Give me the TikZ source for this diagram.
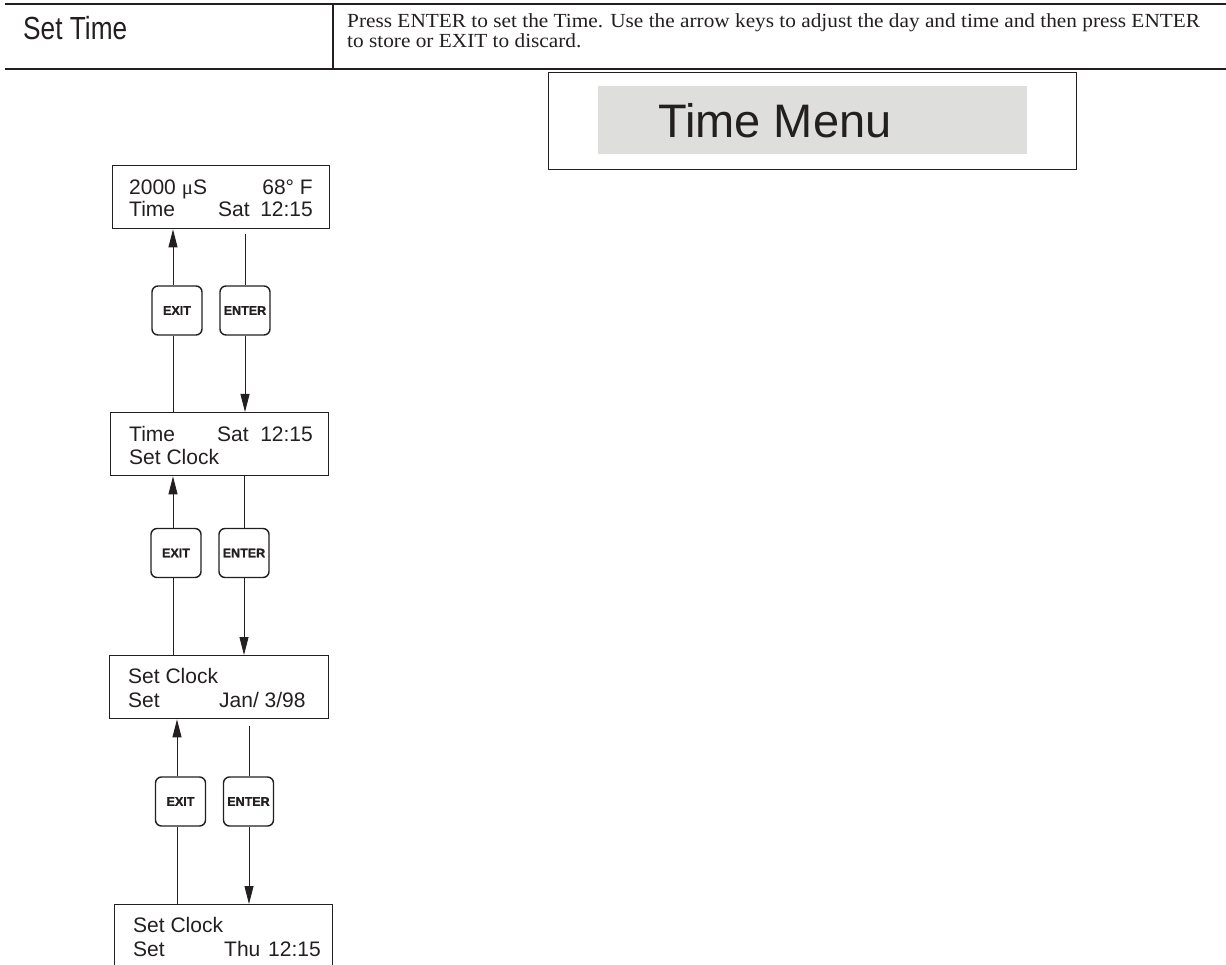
\documentclass[tikz,border=0pt]{standalone}
\usepackage{graphicx}
\usepackage{fontspec}
\setmainfont{Liberation Serif}
\newfontfamily\arialf{Liberation Sans}
\newfontfamily\keyf{Liberation Sans Bold}[FakeBold=1.2]
\usetikzlibrary{arrows.meta}
\definecolor{menugrey}{RGB}{222,222,221}
\definecolor{inkc}{RGB}{35,31,32}
\begin{document}
\begin{tikzpicture}[x=1pt,y=-1pt,
  hline/.style={line width=2.6pt, inkc},
  vline/.style={line width=1.6pt, inkc},
  lcdbox/.style={draw=inkc, line width=1.4pt, rectangle, inner sep=0pt, anchor=north west},
  lcdtxt/.style={font=\arialf\fontsize{21}{21}\selectfont, inner sep=0pt, text=inkc},
  keybox/.style={draw=inkc, line width=1.4pt, rounded corners=6pt, inner sep=0pt,
    minimum width=50pt, minimum height=49pt, text=inkc,
    font=\keyf\fontsize{12.5}{12.5}\selectfont},
  flow/.style={line width=0.9pt, inkc},
  flowarrow/.style={line width=0.9pt, inkc, -{Triangle[length=18pt,width=9pt]}},
]
\useasboundingbox (0,0) rectangle (1226,965);
\clip (0,0) rectangle (1226,965);

% header
\draw[hline] (5,4) -- (1226,4);
\draw[hline] (5,69) -- (1226,69);
\draw[vline] (333,4) -- (333,69);
\node[anchor=base west, inner sep=0pt, text=inkc, font=\arialf\fontsize{32}{32}\selectfont] (title) at (23,40) {\scalebox{0.82}[1]{Set Time}};
\node[anchor=base west, inner sep=0pt, text=inkc, font=\fontsize{20}{20}\selectfont] (desc1) at (347,28) {\scalebox{1.065}[1]{Press ENTER to set the Time. Use the arrow keys to adjust the day and time and then press ENTER}};
\node[anchor=base west, inner sep=0pt, text=inkc, font=\fontsize{20}{20}\selectfont] (desc2) at (347,48) {\scalebox{1.065}[1]{to store or EXIT to discard.}};

% Time Menu
\node[draw=inkc, line width=1.4pt, anchor=north west, inner sep=0pt, minimum width=528pt, minimum height=97pt] (menubox) at (548,72) {};
\node[fill=menugrey, anchor=north west, inner sep=0pt, minimum width=429pt, minimum height=68pt] (menuband) at (598,86) {};
\node[anchor=base west, inner sep=0pt, text=inkc, font=\arialf\fontsize{47}{47}\selectfont] (menutxt) at (658,138) {Time Menu};

% display boxes
\node[lcdbox, minimum width=217pt, minimum height=63pt] (box1) at (112,165) {};
\node[lcdbox, minimum width=218pt, minimum height=63pt] (box2) at (110,412) {};
\node[lcdbox, minimum width=219pt, minimum height=63pt] (box3) at (109,655) {};
\node[lcdbox, minimum width=218pt, minimum height=100pt] (box4) at (114,904) {};

% display texts
\node[lcdtxt, anchor=base west] (t1a) at (129,195) {2000 {\rmfamily μ}S};
\node[lcdtxt, anchor=base east] (t1b) at (313,195) {68° F};
\node[lcdtxt, anchor=base west] (t1c) at (129,217) {Time};
\node[lcdtxt, anchor=base west] (t1d) at (218,217) {Sat};
\node[lcdtxt, anchor=base east] (t1e) at (313,217) {12:15};

\node[lcdtxt, anchor=base west] (t2a) at (129,441) {Time};
\node[lcdtxt, anchor=base west] (t2b) at (217,441) {Sat};
\node[lcdtxt, anchor=base east] (t2c) at (313,441) {12:15};
\node[lcdtxt, anchor=base west] (t2d) at (129,464) {Set Clock};

\node[lcdtxt, anchor=base west] (t3a) at (128,683) {Set Clock};
\node[lcdtxt, anchor=base west] (t3b) at (128,707) {Set};
\node[lcdtxt, anchor=base west] (t3c) at (219,707) {Jan/ 3/98};

\node[lcdtxt, anchor=base west] (t4a) at (133,932) {Set Clock};
\node[lcdtxt, anchor=base west] (t4b) at (133,956) {Set};
\node[lcdtxt, anchor=base west] (t4c) at (224,956) {Thu};
\node[lcdtxt, anchor=base west] (t4d) at (268,956) {12:15};

% keys
\node[keybox] (b1x) at (177,310.5) {EXIT};
\node[keybox] (b1e) at (245,310.5) {ENTER};
\node[keybox] (b2x) at (176,553) {EXIT};
\node[keybox] (b2e) at (244,553) {ENTER};
\node[keybox] (b3x) at (180.5,801.5) {EXIT};
\node[keybox] (b3e) at (248.5,801.5) {ENTER};

% connector columns
\coordinate (c1x) at (173,300);
\coordinate (c1e) at (245,300);
\coordinate (c2x) at (173,550);
\coordinate (c2e) at (244,550);
\coordinate (c3x) at (177,800);
\coordinate (c3e) at (249,800);

% level 1
\draw[flowarrow] (c1x |- b1x.north) -- (c1x |- box1.south);
\draw[flow] (c1x |- b1x.south) -- (c1x |- box2.north);
\draw[flow] (c1e |- box1.south) ++(0,5) -- (c1e |- b1e.north);
\draw[flowarrow] (c1e |- b1e.south) -- (c1e |- box2.north);

% level 2
\draw[flowarrow] (c2x |- b2x.north) -- (c2x |- box2.south);
\draw[flow] (c2x |- b2x.south) -- (c2x |- box3.north);
\draw[flow] (c2e |- box2.south) -- (c2e |- b2e.north);
\draw[flowarrow] (c2e |- b2e.south) -- (c2e |- box3.north);

% level 3
\draw[flowarrow] (c3x |- b3x.north) -- (c3x |- box3.south);
\draw[flow] (c3x |- b3x.south) -- (c3x |- box4.north);
\draw[flow] (c3e |- box3.south) ++(0,7) -- (c3e |- b3e.north);
\draw[flowarrow] (c3e |- b3e.south) -- (c3e |- box4.north);
\end{tikzpicture}
\end{document}
